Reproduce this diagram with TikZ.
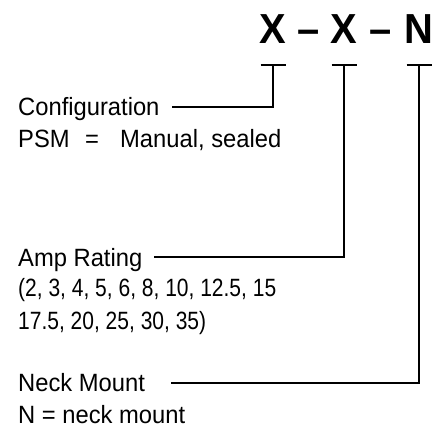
\documentclass[tikz,border=0pt]{standalone}
\usepackage{fontspec}
\setmainfont{Liberation Sans}[BoldFont={Liberation Sans Bold},FakeStretch=0.95]
\newfontfamily\numfont{Liberation Sans}[FakeStretch=0.84]
\begin{document}
\begin{tikzpicture}[x=1pt,y=-1pt,
  lbl/.style={anchor=base west,inner sep=0pt,font=\fontsize{25}{29}\selectfont},
  numlbl/.style={anchor=base west,inner sep=0pt,font=\fontsize{25}{29}\numfont},
  code/.style={anchor=base,inner sep=0pt,font=\fontsize{42}{46}\selectfont\bfseries},
  conn/.style={line width=2pt,line cap=rect},
  tee/.style={line width=2pt}]
\useasboundingbox (0,0) rectangle (447,428);
% code letters
\node[code] (c1) at (273,44) {X};
\node[code] (d1) at (309,44) {–};
\node[code] (c2) at (344,44) {X};
\node[code] (d2) at (381,44) {–};
\node[code] (c3) at (419,44) {N};
% tee bars
\coordinate (t1) at (273,65);
\coordinate (t2) at (344,65);
\coordinate (t3) at (419,65);
\draw[tee] ([xshift=-12.5pt]t1) -- ([xshift=12.5pt]t1);
\draw[tee] ([xshift=-12.5pt]t2) -- ([xshift=12.5pt]t2);
\draw[tee] ([xshift=-12.5pt]t3) -- ([xshift=12.5pt]t3);
% labels
\node[lbl] (cfg) at (18,115) {Configuration};
\node[lbl] (psm) at (18,147) {\makebox[67pt][l]{PSM}\makebox[35pt][l]{=}Manual, sealed};
\node[lbl] (amp) at (18,266) {Amp Rating};
\node[numlbl] (amp2) at (18,296) {(2, 3, 4, 5, 6, 8, 10, 12.5, 15};
\node[numlbl] (amp3) at (18,329) {17.5, 20, 25, 30, 35)};
\node[lbl] (neck) at (18,391) {Neck Mount};
\node[lbl] (neck2) at (18,423) {N = neck mount};
% connectors
\coordinate (e1) at (173,107);
\coordinate (e2) at (155,257);
\coordinate (e3) at (172,383);
\draw[conn] (e1) -| (t1);
\draw[conn] (e2) -| (t2);
\draw[conn] (e3) -| (t3);
\end{tikzpicture}
\end{document}
